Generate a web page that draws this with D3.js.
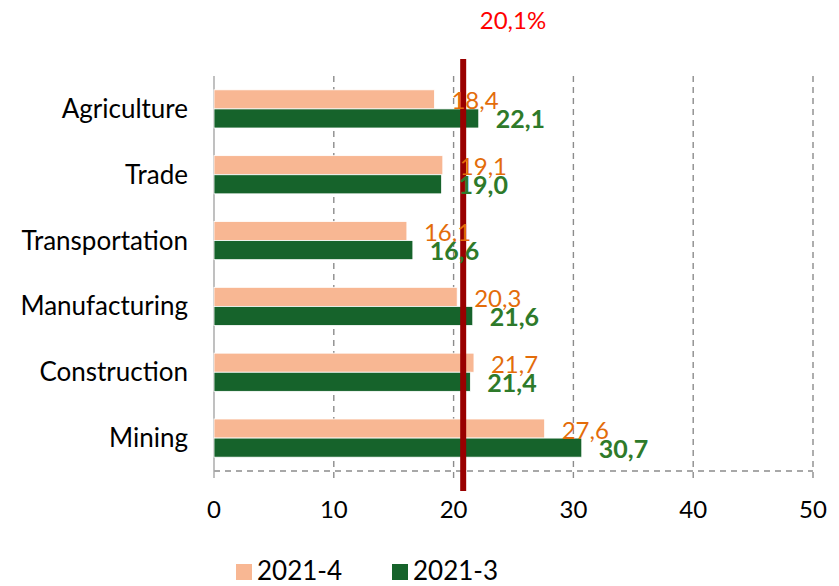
<html>
<head>
<script src="https://d3js.org/d3.v7.min.js"></script>
<style>
  body { margin: 0; background: #fff; }
  text { font-family: Lato, "Open Sans", sans-serif; }
  .cat-label { font-size: 26px; fill: #000; text-anchor: end; }
  .tick-label { font-size: 24px; fill: #000; text-anchor: middle; }
  .lab4 { font-size: 24px; fill: #e36c0a; }
  .lab3 { font-size: 25px; fill: #2e7a2a; font-weight: bold; }
  .legend-text { font-size: 26px; fill: #000; }
</style>
</head>
<body>
<svg class="vis" width="839" height="586"></svg>
<script>
// data
const categories = ["Agriculture", "Trade", "Transportation", "Manufacturing", "Construction", "Mining"];
const series = ["2021-4", "2021-3"];
const values2021_4 = [18.4, 19.1, 16.1, 20.3, 21.7, 27.6];
const values2021_3 = [22.1, 19.0, 16.6, 21.6, 21.4, 30.7];
const xTicks = [0, 10, 20, 30, 40, 50];
const refLinePos = 20.8;      // where the red line sits on the axis
const refLineLabel = "20,1%";

const colors = {"2021-4": "#f8b793", "2021-3": "#16632b"};

const plotLeft = 214, plotRight = 813, plotTop = 76, plotBottom = 471;

const svg = d3.select(".vis");

const xs = d3.scaleLinear().domain([0, 50]).range([plotLeft, plotRight]);
const ys = d3.scaleBand().domain(categories).range([plotTop, plotBottom])
    .paddingInner(0.42).paddingOuter(0.21);
const ySub = d3.scaleBand().domain(series).range([0, ys.bandwidth()]);

const fmt = v => v.toFixed(1).replace(".", ",");

// dashed grid lines (also the small ticks under the axis)
svg.append("g").selectAll("line")
    .data(xTicks.slice(1))
    .enter().append("line")
    .attr("x1", d => xs(d)).attr("x2", d => xs(d))
    .attr("y1", plotTop).attr("y2", plotBottom + 7)
    .attr("stroke", "#8c8c8c").attr("stroke-width", 1.4)
    .attr("stroke-dasharray", "6,5");

// bottom dashed line
svg.append("line")
    .attr("x1", xs(0)).attr("x2", xs(50))
    .attr("y1", plotBottom).attr("y2", plotBottom)
    .attr("stroke", "#8c8c8c").attr("stroke-width", 1.4)
    .attr("stroke-dasharray", "6,5");

// left axis line
svg.append("line")
    .attr("x1", xs(0)).attr("x2", xs(0))
    .attr("y1", plotTop).attr("y2", plotBottom + 7)
    .attr("stroke", "#a6a6a6").attr("stroke-width", 1.4);

// tick labels
svg.append("g").selectAll("text")
    .data(xTicks)
    .enter().append("text")
    .attr("class", "tick-label")
    .attr("x", d => xs(d))
    .attr("y", 518)
    .text(d => d);

// category labels
svg.append("g").selectAll("text")
    .data(categories)
    .enter().append("text")
    .attr("class", "cat-label")
    .attr("x", 188)
    .attr("y", d => ys(d) + ys.bandwidth() / 2 + 9)
    .text(d => d);

const rows = categories.map((c, i) => ({cat: c, "2021-4": values2021_4[i], "2021-3": values2021_3[i]}));

const groups = svg.append("g").selectAll("g")
    .data(rows)
    .enter().append("g")
    .attr("transform", d => `translate(0,${ys(d.cat)})`);

groups.selectAll("rect")
    .data(d => series.map(s => ({s: s, v: d[s]})))
    .enter().append("rect")
    .attr("x", xs(0))
    .attr("y", d => ySub(d.s))
    .attr("width", d => xs(d.v) - xs(0))
    .attr("height", ySub.bandwidth())
    .attr("fill", d => colors[d.s])
    .attr("stroke", "#ffffff").attr("stroke-width", 0.8);

// red reference line
svg.append("line")
    .attr("x1", xs(refLinePos)).attr("x2", xs(refLinePos))
    .attr("y1", 59).attr("y2", 491)
    .attr("stroke", "#990000").attr("stroke-width", 6);

svg.append("text")
    .attr("x", 513).attr("y", 29)
    .attr("text-anchor", "middle")
    .style("font-size", "24px").style("fill", "#ff0000")
    .text(refLineLabel);

// value labels, drawn over the red line
svg.append("g").selectAll("g")
    .data(rows)
    .enter().append("g")
    .attr("transform", d => `translate(0,${ys(d.cat)})`)
    .selectAll("text")
    .data(d => series.map(s => ({s: s, v: d[s]})))
    .enter().append("text")
    .attr("class", d => d.s === "2021-4" ? "lab4" : "lab3")
    .attr("x", d => xs(d.v) + 17)
    .attr("y", d => ySub(d.s) + ySub.bandwidth() / 2 + 10)
    .text(d => fmt(d.v));

// legend
const legend = svg.append("g");
const legendX = [236, 392];
series.forEach((s, i) => {
    legend.append("rect")
        .attr("x", legendX[i]).attr("y", 564)
        .attr("width", 16).attr("height", 16)
        .attr("fill", colors[s]);
    legend.append("text")
        .attr("class", "legend-text")
        .attr("x", legendX[i] + 21).attr("y", 580)
        .text(s);
});
</script>
</body>
</html>
